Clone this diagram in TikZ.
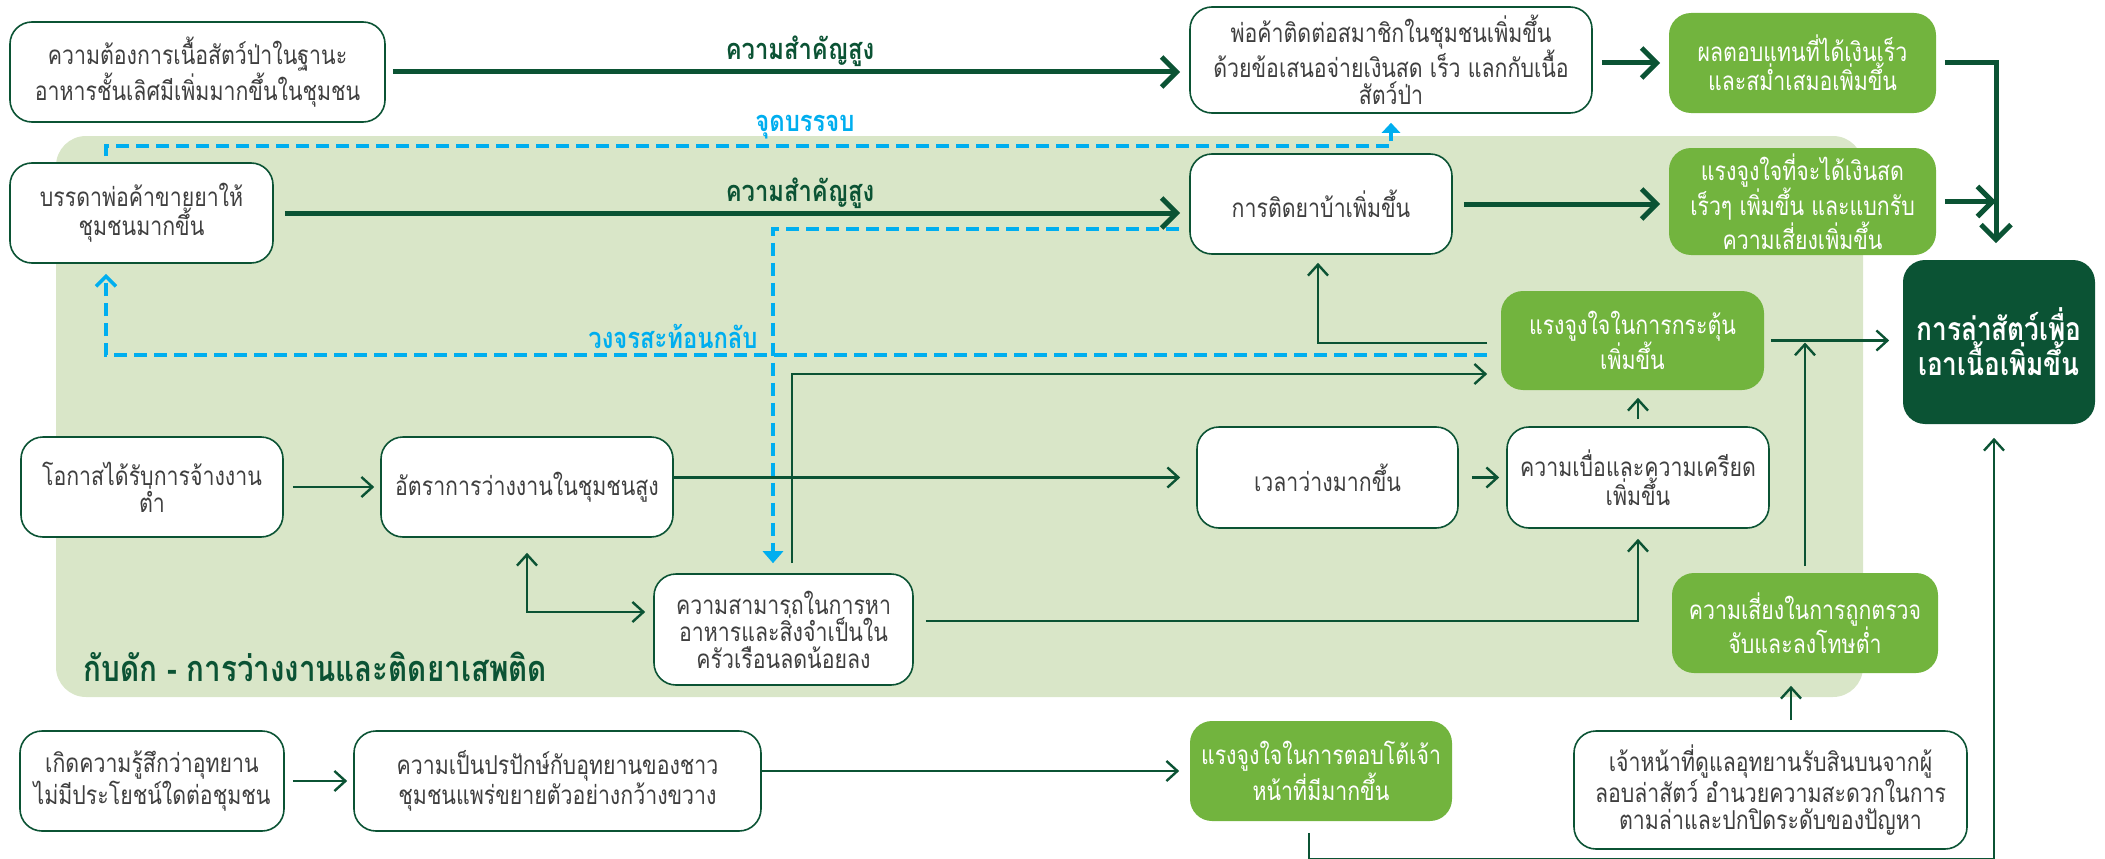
\documentclass[tikz,border=0pt]{standalone}
\usepackage{fontspec}
\setmainfont[Script=Thai, FakeStretch=0.82]{Loma}
\usetikzlibrary{arrows.meta}
\definecolor{darkgreen}{HTML}{0B5334}
\definecolor{midgreen}{HTML}{72B43E}
\definecolor{trapbg}{HTML}{D9E6C8}
\definecolor{loopblue}{HTML}{00AEEF}
\definecolor{textgrey}{HTML}{3F3F3F}
\tikzset{
  factor/.style={rectangle, rounded corners=22pt, draw=darkgreen, line width=1.6pt,
    fill=white, text=textgrey, align=center, inner sep=0pt,
    font=\fontsize{26}{27}\selectfont},
  driver/.style={factor, draw=none, fill=midgreen, text=white},
  outcome/.style={factor, draw=none, fill=darkgreen, text=white,
    font=\bfseries\fontsize{32}{34}\selectfont},
  link/.style={draw=darkgreen, line width=2.4pt, -{Straight Barb[length=11pt,width=20pt]}},
  mainlink/.style={draw=darkgreen, line width=5pt, -{Straight Barb[length=15pt,width=30pt]}},
  loopline/.style={draw=loopblue, line width=3.5pt, dash pattern=on 13pt off 7pt},
  mainlabel/.style={text=darkgreen, font=\bfseries\fontsize{29}{30}\selectfont},
  looplabel/.style={text=loopblue, font=\bfseries\fontsize{29}{30}\selectfont},
}

\begin{document}
\begin{tikzpicture}[x=1pt, y=-1pt]
\useasboundingbox (0,0) rectangle (2105,859);
% the trap area
\fill[trapbg, rounded corners=30pt] (56,136) rectangle (1863,697);
\node[text=darkgreen, anchor=west, font=\bfseries\fontsize{36}{38}\selectfont] (traptitle) at (80,667) {กับดัก - การว่างงานและติดยาเสพติด};

% top rows
\node[factor, minimum width=375pt, minimum height=100pt] (demand) at (197.5,72) {ความต้องการเนื้อสัตว์ป่าในฐานะ\\อาหารชั้นเลิศมีเพิ่มมากขึ้นในชุมชน};
\node[factor, minimum width=263pt, minimum height=100pt] (dealers) at (141.5,213) {บรรดาพ่อค้าขายยาให้\\ชุมชนมากขึ้น};
\node[factor, minimum width=402pt, minimum height=106pt] (traders) at (1391,60) {พ่อค้าติดต่อสมาชิกในชุมชนเพิ่มขึ้น\\ด้วยข้อเสนอจ่ายเงินสด เร็ว แลกกับเนื้อ\\สัตว์ป่า};
\node[driver, minimum width=267pt, minimum height=100pt] (reward) at (1802.5,63) {ผลตอบแทนที่ได้เงินเร็ว\\และสม่ำเสมอเพิ่มขึ้น};
\node[factor, minimum width=262pt, minimum height=100pt] (addiction) at (1321,204) {การติดยาบ้าเพิ่มขึ้น};
\node[driver, minimum width=267pt, minimum height=107pt] (cashmotive) at (1802.5,201.5) {แรงจูงใจที่จะได้เงินสด\\เร็วๆ เพิ่มขึ้น และแบกรับ\\ความเสี่ยงเพิ่มขึ้น};
\node[outcome, minimum width=192pt, minimum height=164pt] (hunting) at (1999,342) {การล่าสัตว์เพื่อ\\เอาเนื้อเพิ่มขึ้น};

% inside the trap
\node[driver, minimum width=263pt, minimum height=99pt] (stimulus) at (1632.5,340.5) {แรงจูงใจในการกระตุ้น\\เพิ่มขึ้น};
\node[factor, minimum width=262pt, minimum height=101pt] (stress) at (1638,477.5) {ความเบื่อและความเครียด\\เพิ่มขึ้น};
\node[factor, minimum width=261pt, minimum height=101pt] (freetime) at (1327.5,477.5) {เวลาว่างมากขึ้น};
\node[factor, minimum width=262pt, minimum height=100pt] (lowjobs) at (152,487) {โอกาสได้รับการจ้างงาน\\ต่ำ};
\node[factor, minimum width=292pt, minimum height=100pt] (jobless) at (527,487) {อัตราการว่างงานในชุมชนสูง};
\node[factor, minimum width=259pt, minimum height=111pt] (capacity) at (783.5,629.5) {ความสามารถในการหา\\อาหารและสิ่งจำเป็นใน\\ครัวเรือนลดน้อยลง};
\node[driver, minimum width=266pt, minimum height=100pt] (lowrisk) at (1805,623) {ความเสี่ยงในการถูกตรวจ\\จับและลงโทษต่ำ};

% bottom row
\node[factor, minimum width=264pt, minimum height=100pt] (useless) at (152,781) {เกิดความรู้สึกว่าอุทยาน\\ไม่มีประโยชน์ใดต่อชุมชน};
\node[factor, minimum width=407pt, minimum height=100pt] (hostility) at (557.5,781) {ความเป็นปรปักษ์กับอุทยานของชาว\\ชุมชนแพร่ขยายตัวอย่างกว้างขวาง};
\node[driver, minimum width=262pt, minimum height=100pt] (retaliate) at (1321,771) {แรงจูงใจในการตอบโต้เจ้า\\หน้าที่มีมากขึ้น};
\node[factor, minimum width=393pt, minimum height=118pt] (bribes) at (1770.5,790) {เจ้าหน้าที่ดูแลอุทยานรับสินบนจากผู้\\ลอบล่าสัตว์ อำนวยความสะดวกในการ\\ตามล่าและปกปิดระดับของปัญหา};

% helper points
\coordinate (mergex) at ([xshift=-3pt]hunting.north);
\coordinate (bribetop) at ([xshift=20.5pt]bribes.north);

% high importance links
\draw[mainlink, shorten <=7pt, shorten >=9pt] (demand.east) -- (demand.east -| traders.west);
\node[mainlabel] (imp1) at (800,51) {ความสำคัญสูง};
\draw[mainlink, shorten <=11pt, shorten >=9pt] (dealers.east) -- (dealers.east -| addiction.west);
\node[mainlabel] (imp2) at (800,193) {ความสำคัญสูง};
\draw[mainlink, shorten <=9pt, shorten >=8pt] (traders.east |- reward.west) -- (reward.west);
\draw[mainlink, shorten <=11pt, shorten >=8pt] (addiction.east) -- (addiction.east -| cashmotive.west);
\draw[mainlink, shorten <=8pt, shorten >=16pt] (reward.east) -| (mergex);
\draw[mainlink, shorten <=8pt] (cashmotive.east) -- (cashmotive.east -| mergex);

% dashed loops
\draw[loopline, -{Triangle[length=10pt,width=18pt]}, shorten <=6pt, shorten >=9pt] ([xshift=-35.5pt]dealers.north) -- ++(0,-16) -| (traders.south);
\node[looplabel] (meet) at (805,127) {จุดบรรจบ};
\draw[loopline, -{Straight Barb[length=10pt,width=20pt]}, shorten <=13pt, shorten >=10pt] ([yshift=-14.5pt]stimulus.west) -| ([xshift=-35.5pt]dealers.south);
\node[looplabel] (feedback) at (673,336) {วงจรสะท้อนกลับ};
\draw[loopline, -{Triangle[length=12pt,width=20pt]}, shorten <=10pt, shorten >=10pt] ([yshift=-25pt]addiction.west) -| ([xshift=-10.5pt]capacity.north);

% other links
\draw[link, shorten <=13pt, shorten >=8pt] ([yshift=-2.5pt]stimulus.west) -| ([xshift=-3pt]addiction.south);
\draw[link, shorten <=10pt, shorten >=13pt] ([xshift=8.5pt]capacity.north) |- ([yshift=-33.5pt]stimulus.west);
\draw[link, shorten <=6pt, shorten >=13pt] (stimulus.east) -- (stimulus.east -| hunting.west);
\draw[link, shorten <=6pt, shorten >=2pt] (lowrisk.north) -- (lowrisk.north |- stimulus.east);
\draw[link, shorten <=7pt, shorten >=7pt] (stress.north) -- (stress.north |- stimulus.south);
\draw[link, shorten <=13pt, shorten >=7pt] (freetime.east) -- (stress.west);
\draw[link, shorten <=9pt, shorten >=6pt] (lowjobs.east) -- (jobless.west);
\draw[link, shorten >=16pt] (jobless.east |- freetime.west) -- (freetime.west);
\draw[link, {Straight Barb[length=11pt,width=20pt]}-{Straight Barb[length=11pt,width=20pt]}, shorten <=15pt, shorten >=8pt] (jobless.south) |- ([yshift=17.5pt]capacity.west);
\draw[link, shorten <=12pt, shorten >=10pt] ([yshift=8.5pt]capacity.east) -| (stress.south);
\draw[link, shorten <=8pt, shorten >=6pt] (useless.east) -- (hostility.west);
\draw[link, shorten >=10pt] (hostility.east |- retaliate.west) -- (retaliate.west);
\draw[link, shorten <=11pt, shorten >=13pt] ([xshift=-12pt]retaliate.south) -- ++(0,37) -| ([xshift=-5pt]hunting.south);
\draw[link, shorten <=10pt, shorten >=12pt] (bribetop) -- (bribetop |- lowrisk.south);
\end{tikzpicture}
\end{document}
